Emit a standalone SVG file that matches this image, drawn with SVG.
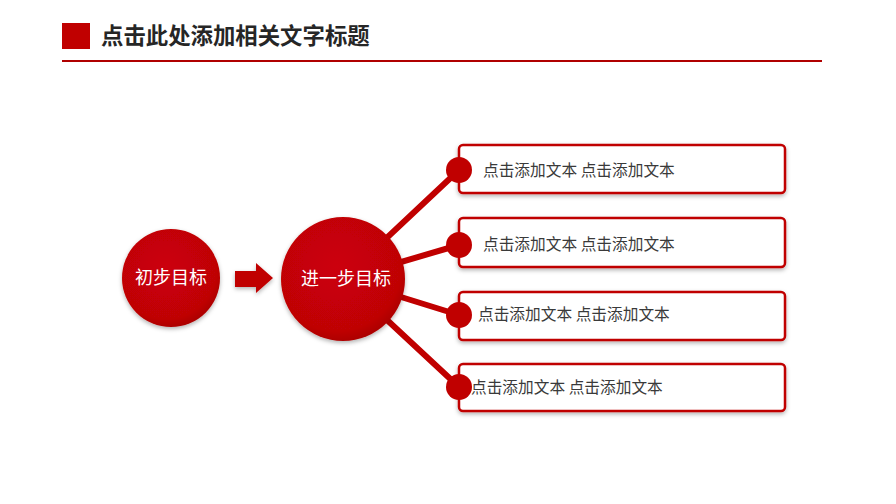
<svg xmlns="http://www.w3.org/2000/svg" width="896" height="504" viewBox="0 0 896 504">
<style>
.title{font-family:"Noto Sans CJK SC","Liberation Sans",sans-serif;font-size:22.4px;font-weight:bold;fill:#262626}
.box{fill:#fff;stroke:#c00000;stroke-width:2.5}
.dot{fill:#c00000}
.btxt{font-family:"Noto Sans CJK SC","Liberation Sans",sans-serif;font-size:15.7px;fill:#3a3a3a}
.ctxt{font-family:"Noto Sans CJK SC","Liberation Sans",sans-serif;font-size:18px;fill:#fff;text-anchor:middle}
.conn{stroke:#c00000;stroke-width:6;stroke-linecap:round}
</style>
<defs>
<radialGradient id="cg" cx="0.45" cy="0.4" r="0.65">
<stop offset="0" stop-color="#cc0008"/>
<stop offset="0.8" stop-color="#bf0006"/>
<stop offset="1" stop-color="#a30004"/>
</radialGradient>
<filter id="sh" x="-20%" y="-20%" width="140%" height="150%">
<feDropShadow dx="0" dy="2" stdDeviation="2" flood-color="#000" flood-opacity="0.3"/>
</filter>
</defs>
<rect width="896" height="504" fill="#fff"/>
<g id="header">
<rect x="62" y="23" width="28" height="26" fill="#c00000"/>
<text class="title" x="101" y="44">点击此处添加相关文字标题</text>
<line x1="62" y1="61" x2="822" y2="61" stroke="#b00000" stroke-width="2"/>
</g>
<g id="connectors">
<line class="conn" x1="343" y1="279" x2="459" y2="170"/>
<line class="conn" x1="343" y1="279" x2="459" y2="245"/>
<line class="conn" x1="343" y1="279" x2="459" y2="315"/>
<line class="conn" x1="343" y1="279" x2="459" y2="387"/>
<polygon points="235,271 256,271 256,263 273,278 256,293 256,287 235,287" fill="#c00000" filter="url(#sh)"/>
</g>
<g id="n1">
<circle cx="171" cy="278" r="49" fill="url(#cg)" filter="url(#sh)"/>
<text class="ctxt" x="171" y="284">初步目标</text>
</g>
<g id="n2">
<circle cx="343" cy="279" r="62" fill="url(#cg)" filter="url(#sh)"/>
<text class="ctxt" x="346" y="285">进一步目标</text>
</g>
<g id="b1">
<rect class="box" x="459" y="145" width="326" height="48" rx="4" filter="url(#sh)"/>
<circle class="dot" cx="459" cy="170" r="13"/>
<text class="btxt" x="483" y="176">点击添加文本 点击添加文本</text>
</g>
<g id="b2">
<rect class="box" x="459" y="218" width="326" height="49" rx="4" filter="url(#sh)"/>
<circle class="dot" cx="459" cy="245" r="13"/>
<text class="btxt" x="483" y="250">点击添加文本 点击添加文本</text>
</g>
<g id="b3">
<rect class="box" x="459" y="292" width="326" height="48" rx="4" filter="url(#sh)"/>
<circle class="dot" cx="459" cy="315" r="13"/>
<text class="btxt" x="478" y="320">点击添加文本 点击添加文本</text>
</g>
<g id="b4">
<rect class="box" x="459" y="364" width="326" height="47" rx="4" filter="url(#sh)"/>
<circle class="dot" cx="459" cy="387" r="13"/>
<text class="btxt" x="471" y="393">点击添加文本 点击添加文本</text>
</g>
</svg>
